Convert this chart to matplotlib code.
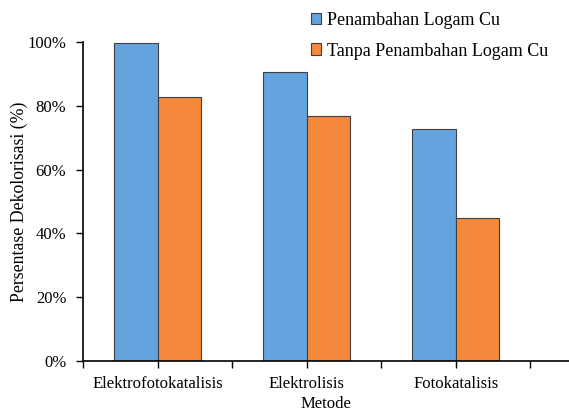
import numpy as np
import matplotlib.pyplot as plt
from matplotlib.ticker import PercentFormatter

metode = ["Elektrofotokatalisis", "Elektrolisis", "Fotokatalisis"]
dengan_cu = [99.7, 90.6, 72.7]
tanpa_cu = [82.8, 76.8, 44.8]

plt.rcParams['font.family'] = ['Liberation Serif', 'DejaVu Serif']

fig = plt.figure(figsize=(5.69, 4.12), dpi=100)
ax = fig.add_axes([83/569, 51/412, 1 - 83/569, 319/412])

x = np.arange(len(metode))
w = 0.29
ax.bar(x - w/2, dengan_cu, w, color="#65A3DF", edgecolor="#404040", linewidth=0.8,
       label="Penambahan Logam Cu")
ax.bar(x + w/2, tanpa_cu, w, color="#F5883A", edgecolor="#404040", linewidth=0.8,
       label="Tanpa Penambahan Logam Cu")

ax.set_xlim(-0.5, 2.76)
ax.set_ylim(0, 100)
ax.set_yticks(np.arange(0, 101, 20))
ax.yaxis.set_major_formatter(PercentFormatter(decimals=0))
ax.set_xticks(x)
ax.set_xticklabels(metode)
ax.set_xticks([-0.5, 0.5, 1.5, 2.5], minor=True)
ax.tick_params(axis='x', which='both', length=5, width=1, direction='out', labelsize=12, pad=6)
ax.tick_params(axis='y', length=5, width=1, direction='out', labelsize=12, pad=7)

for s in ["top", "right"]:
    ax.spines[s].set_visible(False)
ax.spines["left"].set_linewidth(1.2)
ax.spines["bottom"].set_linewidth(1.2)

ax.set_ylabel("Persentase Dekolorisasi (%)", fontsize=12.8)
ax.yaxis.set_label_coords(-0.113, 0.5)
ax.set_xlabel("Metode", fontsize=12, labelpad=3)

ax.legend(loc="upper left", bbox_to_anchor=(0.435, 1.145), frameon=False, fontsize=13,
          handlelength=0.6, handleheight=0.6, handletextpad=0.3, labelspacing=0.75)

fig.savefig("out.png", dpi=100)
